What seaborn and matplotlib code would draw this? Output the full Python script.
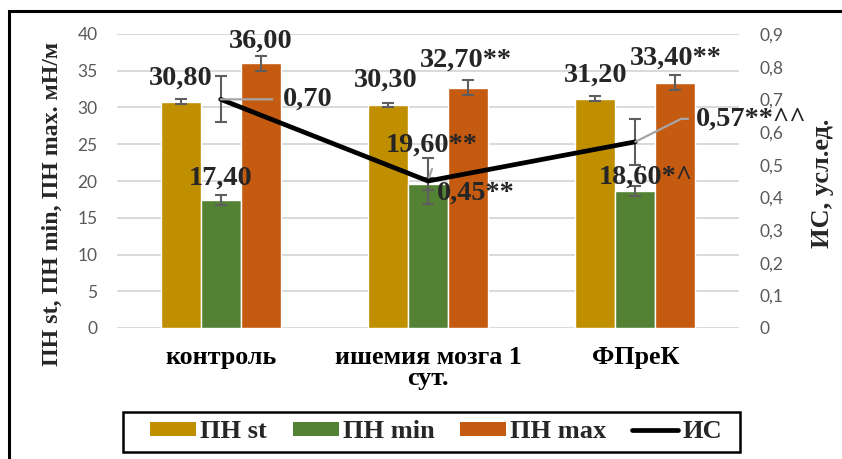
import matplotlib
matplotlib.use("Agg")
import matplotlib.pyplot as plt
import numpy as np
import pandas as pd
import seaborn as sns
from matplotlib.patches import Patch, Rectangle
from matplotlib.lines import Line2D

# ---- data ----
groups = ["контроль", "ишемия мозга 1 сут.", "ФПреК"]
group_ticklabels = ["контроль", "ишемия мозга 1\nсут.", "ФПреК"]
series = ["ПН st", "ПН min", "ПН max"]
pn_st = [30.8, 30.3, 31.2]
pn_min = [17.4, 19.6, 18.6]
pn_max = [36.0, 32.7, 33.4]
pn_st_err = [0.3, 0.3, 0.3]
pn_min_err = [0.7, 0.8, 0.7]
pn_max_err = [1.0, 1.0, 1.0]
is_name = "ИС"
is_values = [0.70, 0.45, 0.57]
is_err = [0.07, 0.07, 0.07]
# significance marks appended to the value labels
pn_st_marks = ["", "", ""]
pn_min_marks = ["", "**", "*^"]
pn_max_marks = ["", "**", "**"]
is_marks = ["", "**", "**^^"]
left_ticks = [0, 5, 10, 15, 20, 25, 30, 35, 40]
right_ticks = [0, 0.1, 0.2, 0.3, 0.4, 0.5, 0.6, 0.7, 0.8, 0.9]
left_title = "ПН st, ПН min, ПН max. мН/м"
right_title = "ИС, усл.ед."

# ---- style ----
colors = {"ПН st": "#BF8F00", "ПН min": "#548235", "ПН max": "#C55A11"}
grid_c = "#D9D9D9"
tick_c = "#595959"
err_c = "#5E5E5E"
lead_c = "#A6A6A6"
serif = "Liberation Serif"
sans = "Lato"
PX = 0.72  # points per pixel at dpi 100

sns.set_style("white")
plt.rcParams["font.family"] = [serif, "DejaVu Serif"]

W, H = 842, 459
fig = plt.figure(figsize=(W / 100, H / 100), dpi=100)
ax = fig.add_axes([117 / W, 1 - 328 / H, 622 / W, 294 / H])


def fmt(v, nd=2):
    return f"{v:.{nd}f}".replace(".", ",")


df = pd.DataFrame({
    "group": np.repeat(groups, 3),
    "series": series * 3,
    "value": [v for trio in zip(pn_st, pn_min, pn_max) for v in trio],
})

sns.barplot(data=df, x="group", y="value", hue="series", order=groups,
            hue_order=series, palette=colors, width=0.58, gap=0,
            errorbar=None, saturation=1, legend=False, ax=ax, zorder=2)

ax.set_xlim(-0.5, 2.5)
ax.set_ylim(0, 40)
ax.set_yticks(left_ticks)
ax.set_yticklabels([str(t) for t in left_ticks], fontfamily=sans)
ax.set_xticks(range(len(groups)))
ax.set_xticklabels(group_ticklabels, fontfamily=serif, fontweight="bold",
                   fontsize=18.7, linespacing=0.88)
ax.tick_params(axis="y", colors=tick_c, labelsize=12.5, length=0, pad=14)
ax.tick_params(axis="x", colors="black", length=0, pad=13)
ax.set_xlabel("")
ax.set_ylabel("")
ax.yaxis.grid(True, color=grid_c, lw=1.4, zorder=0)
ax.set_axisbelow(True)
for s in ax.spines.values():
    s.set_visible(False)

# error bars on the bars
vals = [pn_st, pn_min, pn_max]
errs = [pn_st_err, pn_min_err, pn_max_err]
marks = [pn_st_marks, pn_min_marks, pn_max_marks]
centers = []
for cont, v, e in zip(ax.containers, vals, errs):
    xs = [p.get_x() + p.get_width() / 2 for p in cont.patches]
    centers.append(xs)
    ax.errorbar(xs, v, yerr=e, fmt="none", ecolor=err_c, elinewidth=1.5,
                capsize=4, capthick=1.5, zorder=3)

# secondary axis with the ИС line
ax2 = ax.twinx()
ax2.set_ylim(0, 0.9)
ax2.set_yticks(right_ticks)
ax2.set_yticklabels([fmt(t, 1) if t else "0" for t in right_ticks], fontfamily=sans)
ax2.tick_params(axis="y", colors=tick_c, labelsize=12.5, length=0, pad=15)
for s in ax2.spines.values():
    s.set_visible(False)
ax2.grid(False)

is_x = centers[1]
ax2.errorbar(is_x, is_values, yerr=is_err, fmt="none", ecolor=err_c,
             elinewidth=1.5, capsize=4, capthick=1.5, zorder=3)
sns.lineplot(x=is_x, y=is_values, ax=ax2, color="black", lw=3.4,
             zorder=4, legend=False)
ax2.set_ylabel("")

LABEL_SIZE = 20.3
label_kw = dict(fontfamily=serif, fontweight="bold", fontsize=LABEL_SIZE,
                ha="center", va="center", textcoords="offset points",
                xycoords=ax.transData, zorder=6)

# bar value labels: (dx, dy) offsets in pixels from the bar top
bar_offsets = [
    [(0, 23), (-2, 25), (0, 24)],
    [(0, 22), (4, 39), (10, 14)],
    [(0, 22), (-2, 27), (0, 24)],
]
for si in range(3):
    for gi in range(3):
        dx, dy = bar_offsets[si][gi]
        ax2.annotate(fmt(vals[si][gi]) + marks[si][gi],
                     xy=(centers[si][gi], vals[si][gi]),
                     xytext=(dx * PX, dy * PX), **label_kw)

# ИС labels with leader lines
is_kw = dict(fontfamily=serif, fontweight="bold", fontsize=LABEL_SIZE,
             ha="left", va="center", textcoords="offset points", zorder=6)
ax2.annotate(fmt(is_values[0]) + is_marks[0], xy=(is_x[0], is_values[0]),
             xytext=(62 * PX, 0),
             arrowprops=dict(arrowstyle="-", color=lead_c, lw=1.6,
                             shrinkA=7 * PX, shrinkB=0, relpos=(0, 0.5)),
             **is_kw)
ax2.annotate(fmt(is_values[1]) + is_marks[1], xy=(is_x[1], is_values[1]),
             xytext=(9 * PX, -12 * PX), **is_kw)
ax2.annotate("", xy=(is_x[1], is_values[1]), xytext=(4 * PX, 12 * PX),
             textcoords="offset points",
             arrowprops=dict(arrowstyle="-", color=lead_c, lw=1.6,
                             shrinkA=0, shrinkB=0))
ax2.annotate(fmt(is_values[2]) + is_marks[2], xy=(is_x[2], is_values[2]),
             xytext=(61 * PX, 23 * PX),
             arrowprops=dict(arrowstyle="-", color=lead_c, lw=1.6,
                             shrinkA=5 * PX, shrinkB=0, relpos=(0, 0.5),
                             connectionstyle="angle,angleA=0,angleB=26.6,rad=0"),
             **is_kw)

# axis titles
fig.text(52 / W, 1 - 204 / H, left_title, rotation=90, ha="center",
         va="center", fontfamily=serif, fontweight="bold", fontsize=17.2)
fig.text(822 / W, 1 - 183 / H, right_title, rotation=90, ha="center",
         va="center", fontfamily=serif, fontweight="bold", fontsize=19)

# legend entries spread across the strip, with a separate box around it
handles = [Patch(facecolor=colors[s], edgecolor="none") for s in series]
handles.append(Line2D([], [], color="black", lw=3.4))
leg = fig.legend(handles, series + [is_name], loc="center",
                 bbox_to_anchor=(150 / W, 1 - 452 / H, 572 / W, 40 / H),
                 mode="expand", ncol=4, frameon=False,
                 handlelength=1.75, handleheight=0.42, handletextpad=0.15,
                 columnspacing=1.0, borderpad=0.0, borderaxespad=0,
                 prop=dict(family=serif, weight="bold", size=19))
fig.patches.append(Rectangle((123 / W, 1 - 452 / H), 617 / W, 40 / H,
                             transform=fig.transFigure, fill=False,
                             edgecolor="black", lw=1.8))

# outer frame
fig.patches.append(Rectangle((9 / W, -0.2), 1.2, 1 - 11 / H + 0.2,
                             transform=fig.transFigure, fill=False,
                             edgecolor="black", lw=2.2))

fig.savefig("out.png", dpi=100)
